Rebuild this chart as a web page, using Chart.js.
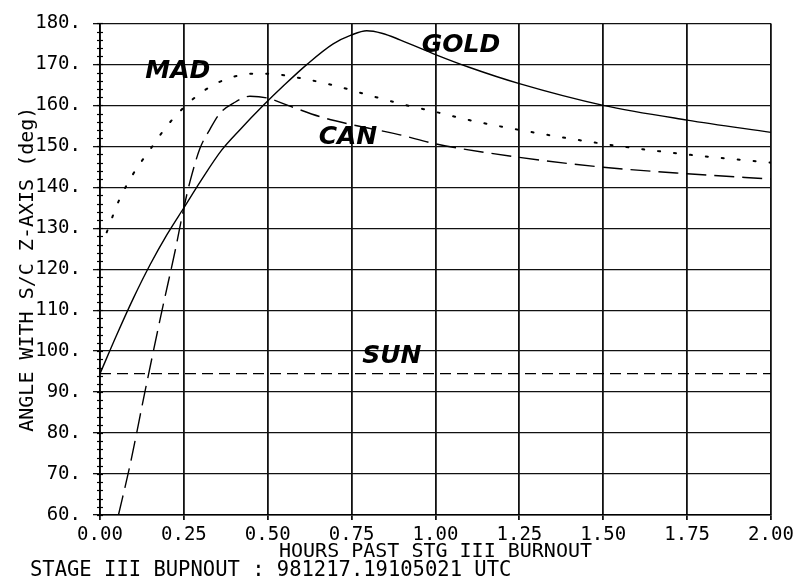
<!DOCTYPE html>
<html>
<head>
<meta charset="utf-8">
<script src="https://cdn.jsdelivr.net/npm/chart.js@4/dist/chart.umd.min.js"></script>
<style>
  html, body { margin: 0; padding: 0; background: #fff; }
  canvas { display: block; }
</style>
</head>
<body>
<canvas id="chart" width="802" height="583"></canvas>
<script>
// Angle between the spacecraft Z-axis and each target, hours after stage III burnout
const goldHours = [0, 0.05, 0.1, 0.15, 0.2, 0.25, 0.3, 0.362, 0.42, 0.487, 0.55, 0.617, 0.695, 0.75, 0.795, 0.84, 0.894, 1.0, 1.1, 1.25, 1.5, 1.75, 2.0];
const goldAngle = [94.5, 104, 113, 121.2, 128.5, 135, 141.5, 149, 154.3, 160, 165, 170, 175, 177.2, 178.2, 177.6, 176, 172.4, 169.3, 165.3, 160, 156.4, 153.4];

const madHours = [0.02, 0.055, 0.1, 0.15, 0.2, 0.25, 0.3, 0.35, 0.4, 0.45, 0.5, 0.6, 0.7, 0.8, 0.9, 1.0, 1.1, 1.25, 1.5, 1.75, 2.0];
const madAngle = [129, 136.5, 143.4, 149.3, 155, 159.5, 163, 165.5, 167, 167.7, 167.7, 166.6, 164.8, 162.5, 160.3, 158.4, 156.4, 154, 150.6, 148, 146];

const canHours = [0.055, 0.089, 0.134, 0.185, 0.224, 0.25, 0.268, 0.298, 0.328, 0.358, 0.397, 0.447, 0.497, 0.566, 0.665, 0.75, 0.894, 1.0, 1.25, 1.5, 1.75, 2.0];
const canAngle = [60, 72, 90.1, 110, 124.5, 135, 141.3, 149.5, 154.2, 158.1, 160.5, 162.2, 161.8, 159.8, 157, 155.3, 152.8, 150.6, 147.3, 144.9, 143.3, 142];

const sunHours = [0, 2.0];
const sunAngle = [94.5, 94.5];

const hourTicks = [0, 0.25, 0.5, 0.75, 1.0, 1.25, 1.5, 1.75, 2.0];
const angleTicks = [60, 70, 80, 90, 100, 110, 120, 130, 140, 150, 160, 170, 180];

const curveNames = ['MAD', 'GOLD', 'CAN', 'SUN'];
const footerText = 'STAGE III BUPNOUT : 981217.19105021 UTC';

const toPoints = (h, a) => h.map((x, i) => ({ x, y: a[i] }));

const plotFont = { family: '"DejaVu Sans Mono", monospace', size: 19, weight: 'normal' };
const titleFont = { family: '"DejaVu Sans Mono", monospace', size: 20, weight: 'normal' };

// Hand-lettered curve names, the footer line and minor ticks on the angle axis
const annotate = {
  id: 'annotate',
  afterDraw(chart) {
    const { ctx, scales: { x, y } } = chart;
    ctx.save();

    // minor ticks every 2 deg along the left axis
    ctx.strokeStyle = '#000';
    ctx.lineWidth = 1.2;
    for (let v = 60; v <= 180; v += 2) {
      const py = Math.round(y.getPixelForValue(v)) + 0.5;
      ctx.beginPath();
      ctx.moveTo(x.left - 3, py);
      ctx.lineTo(x.left + 3, py);
      ctx.stroke();
    }

    // curve names
    const anchors = { MAD: [0.232, 168.2], GOLD: [1.076, 174.7], CAN: [0.739, 152.1], SUN: [0.87, 98.7] };
    ctx.fillStyle = '#000';
    ctx.font = 'italic bold 25px "DejaVu Sans", sans-serif';
    ctx.textAlign = 'center';
    ctx.textBaseline = 'middle';
    curveNames.forEach(name => {
      const [hx, ay] = anchors[name];
      ctx.fillText(name, x.getPixelForValue(hx), y.getPixelForValue(ay));
    });

    // footer line
    ctx.font = '20.5px "DejaVu Sans Mono", monospace';
    ctx.textAlign = 'left';
    ctx.fillText(footerText, 30, 571);
    ctx.restore();
  }
};

new Chart(document.getElementById('chart'), {
  type: 'line',
  data: {
    datasets: [
      { label: 'GOLD', data: toPoints(goldHours, goldAngle), borderColor: '#000', borderWidth: 1.4 },
      { label: 'MAD', data: toPoints(madHours, madAngle), borderColor: '#000', borderWidth: 2, borderDash: [2, 14], borderCapStyle: 'round' },
      { label: 'CAN', data: toPoints(canHours, canAngle), borderColor: '#000', borderWidth: 1.4, borderDash: [20, 8] },
      { label: 'SUN', data: toPoints(sunHours, sunAngle), borderColor: '#000', borderWidth: 1.4, borderDash: [11, 6] }
    ]
  },
  options: {
    responsive: false,
    animation: false,
    devicePixelRatio: 1,
    layout: { padding: { top: 16, right: 31, left: 0, bottom: 0 } },
    plugins: { legend: { display: false }, tooltip: { enabled: false } },
    elements: {
      point: { radius: 0 },
      line: { fill: false, cubicInterpolationMode: 'monotone' }
    },
    scales: {
      x: {
        type: 'linear', min: 0, max: 2,
        afterBuildTicks: s => { s.ticks = hourTicks.map(value => ({ value })); },
        ticks: { callback: v => v.toFixed(2), font: plotFont, color: '#000', padding: 4, maxRotation: 0, autoSkip: false },
        grid: { color: '#111', lineWidth: 1.8, tickLength: 5 },
        border: { color: '#000', width: 1.6 },
        title: { display: true, text: 'HOURS PAST STG III BURNOUT', font: titleFont, color: '#000', padding: { top: 0, bottom: 19 } },
        afterFit: s => { s.height = 68; }
      },
      y: {
        type: 'linear', min: 60, max: 180,
        afterBuildTicks: s => { s.ticks = angleTicks.map(value => ({ value })); },
        ticks: { callback: v => v + '.', font: plotFont, color: '#000', padding: 12, autoSkip: false },
        grid: { color: '#111', lineWidth: 1.3, tickLength: 7 },
        border: { color: '#000', width: 1.6 },
        title: { display: true, text: 'ANGLE WITH S/C Z-AXIS (deg)', font: titleFont, color: '#000', padding: { top: 16, bottom: 0 } },
        afterFit: s => { s.width = 100; }
      }
    }
  },
  plugins: [annotate]
});
</script>
</body>
</html>
